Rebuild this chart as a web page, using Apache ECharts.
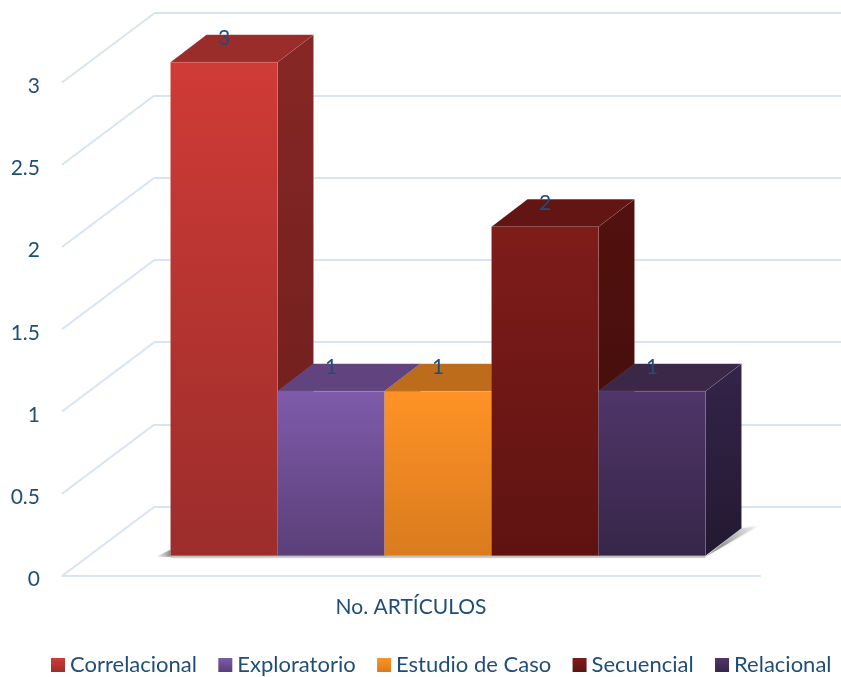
<!DOCTYPE html>
<html>
<head>
<meta charset="utf-8">
<style>
  html, body { margin: 0; padding: 0; background: #fff; }
  #main { width: 841px; height: 677px; }
</style>
<script src="https://cdn.jsdelivr.net/npm/echarts@6/dist/echarts.min.js"></script>
</head>
<body>
<div id="main"></div>
<script>
const category = ['No. ARTÍCULOS']
const seriesNames = ['Correlacional', 'Exploratorio', 'Estudio de Caso', 'Secuencial', 'Relacional']
const seriesValues = [3, 1, 1, 2, 1]
const yTicks = [0, 0.5, 1, 1.5, 2, 2.5, 3]

const frontTop = ['#d03b36', '#7f5bab', '#ff9226', '#7f1c1a', '#4f3569']
const frontBottom = ['#9b2d2b', '#5a3f78', '#d97b1e', '#5e1311', '#372648']
const topFace = ['#9a2c2a', '#60437f', '#bd6c1b', '#621513', '#3b2849']
const sideTop = ['#862725', '#4f3569', '#a05a14', '#52110e', '#34244a']
const sideBottom = ['#6c1e1c', '#3c2852', '#8a4d12', '#3f0d0b', '#231931']

const textColor = '#1f4e79'
const lineColor = '#d7e4f4'
const fontName = 'Lato, Carlito, "Noto Sans", sans-serif'

// depth of the whole floor and of one bar, px
const wallDx = 92, wallDy = -69
const barShiftX = 27, barShiftY = -20.3
const barDx = 36, barDy = -27.5
const barRatio = 0.1533

const vGrad = (a, b) => new echarts.graphic.LinearGradient(0, 0, 0, 1, [
  { offset: 0, color: a }, { offset: 1, color: b }
])

const barRender = (index) => (params, api) => {
  const base = api.coord([0, 0])
  const top = api.coord([0, api.value(1)])
  const w = api.size([1, 0])[0] * barRatio
  const x0 = base[0] + barShiftX + (index - seriesNames.length / 2) * w
  const x1 = x0 + w
  const y0 = base[1] + barShiftY
  const y1 = top[1] + barShiftY
  const edge = 'rgba(255,255,255,0.07)'
  return {
    type: 'group',
    children: [
      {
        type: 'polygon',
        shape: { points: [[x1, y1], [x1 + barDx, y1 + barDy], [x1 + barDx, y0 + barDy], [x1, y0]] },
        style: { fill: vGrad(sideTop[index], sideBottom[index]), stroke: edge, lineWidth: 1 }
      },
      {
        type: 'polygon',
        shape: { points: [[x0, y1], [x1, y1], [x1 + barDx, y1 + barDy], [x0 + barDx, y1 + barDy]] },
        style: { fill: topFace[index], stroke: edge, lineWidth: 1 }
      },
      {
        type: 'rect',
        shape: { x: x0, y: y1, width: w, height: y0 - y1 },
        style: { fill: vGrad(frontTop[index], frontBottom[index]), stroke: edge, lineWidth: 1 }
      },
      {
        type: 'text',
        style: {
          x: (x0 + x1) / 2,
          y: y1 + barDy + 4,
          text: String(api.value(1)),
          fill: textColor,
          font: '21px ' + fontName,
          align: 'center',
          verticalAlign: 'middle'
        }
      }
    ]
  }
}

// floor shadow, under the bars
const shadowRender = (params, api) => {
  const base = api.coord([0, 0])
  const w = api.size([1, 0])[0] * barRatio
  const n = seriesNames.length
  const left = base[0] + barShiftX - n / 2 * w
  const right = base[0] + barShiftX + n / 2 * w
  const y0 = base[1] + barShiftY
  return {
    type: 'group',
    children: [
      {
        type: 'polygon',
        shape: { points: [[right, y0 + 1], [right + barDx, y0 + barDy], [right + barDx + 16, y0 + barDy - 2]] },
        style: { fill: new echarts.graphic.LinearGradient(0, 1, 1, 0, [
          { offset: 0.35, color: '#9a9a9a' }, { offset: 1, color: 'rgba(215,215,215,0.3)' }
        ]), shadowBlur: 3, shadowColor: 'rgba(170,170,170,0.5)' }
      },
      {
        type: 'polygon',
        shape: { points: [[left - 14, y0 + 1], [left, y0 - 6], [left, y0 + 1]] },
        style: { fill: new echarts.graphic.LinearGradient(0, 0, 1, 0, [
          { offset: 0, color: 'rgba(215,215,215,0.3)' }, { offset: 1, color: '#8a8a8a' }
        ]), shadowBlur: 2, shadowColor: 'rgba(170,170,170,0.5)' }
      },
      {
        type: 'rect',
        shape: { x: left, y: y0, width: right - left, height: 2 },
        style: { fill: 'rgba(150,150,150,0.5)', shadowBlur: 2, shadowColor: 'rgba(150,150,150,0.5)' }
      }
    ]
  }
}

const diagonalRender = (params, api) => {
  const p = api.coord([0, api.value(1)])
  const x = params.coordSys.x
  return {
    type: 'line',
    shape: { x1: x, y1: p[1], x2: x + wallDx, y2: p[1] + wallDy },
    style: { stroke: lineColor, lineWidth: 2 }
  }
}

const barSeries = seriesNames.map((name, i) => ({
  name: name,
  type: 'custom',
  xAxisIndex: 0,
  yAxisIndex: 0,
  z: 5,
  clip: false,
  itemStyle: { color: vGrad(frontTop[i], frontBottom[i]) },
  encode: { x: 0, y: 1 },
  data: [[0, seriesValues[i]]],
  renderItem: barRender(i)
}))

const myChart = echarts.init(document.getElementById('main'))
myChart.setOption({
  animation: false,
  backgroundColor: '#fff',
  textStyle: { fontFamily: fontName },
  legend: {
    data: seriesNames,
    left: 51,
    top: 654,
    padding: 0,
    icon: 'rect',
    itemWidth: 14,
    itemHeight: 14,
    itemGap: 21.4,
    textStyle: { color: textColor, fontSize: 22, fontFamily: fontName }
  },
  grid: [
    { left: 62, top: 82.5, width: 698, height: 493.5 },
    { left: 154, top: 13, right: 0, height: 493.5 }
  ],
  xAxis: [
    {
      type: 'category',
      gridIndex: 0,
      data: category,
      axisTick: { show: false },
      axisLine: { lineStyle: { color: lineColor, width: 2 } },
      axisLabel: { color: textColor, fontSize: 21, margin: 21, fontFamily: fontName }
    },
    { type: 'category', gridIndex: 1, data: category, show: false }
  ],
  yAxis: [
    {
      type: 'value',
      gridIndex: 0,
      min: 0,
      max: 3,
      interval: 0.5,
      axisLine: { show: false },
      axisTick: { show: false },
      splitLine: { show: false },
      axisLabel: { color: textColor, fontSize: 21, margin: 22, verticalAlign: 'top', lineHeight: 7, fontFamily: fontName }
    },
    {
      type: 'value',
      gridIndex: 1,
      min: 0,
      max: 3,
      interval: 0.5,
      axisLine: { show: false },
      axisTick: { show: false },
      axisLabel: { show: false },
      splitLine: { lineStyle: { color: lineColor, width: 2 } }
    }
  ],
  series: [
    {
      type: 'custom',
      xAxisIndex: 0,
      yAxisIndex: 0,
      z: 1,
      clip: false,
      silent: true,
      encode: { x: 0, y: 1 },
      data: yTicks.map((t) => [0, t]),
      renderItem: diagonalRender
    },
    {
      type: 'custom',
      xAxisIndex: 0,
      yAxisIndex: 0,
      z: 2,
      clip: false,
      silent: true,
      encode: { x: 0, y: 1 },
      data: [[0, 0]],
      renderItem: shadowRender
    }
  ].concat(barSeries)
})
</script>
</body>
</html>
